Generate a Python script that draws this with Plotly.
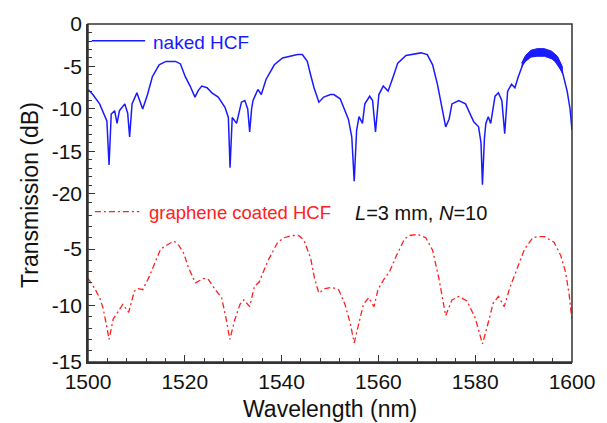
import plotly.graph_objects as go

# ---------------- data ----------------
naked_nm = [1500.0, 1501.0, 1502.4, 1503.4, 1503.9, 1504.35, 1504.8, 1505.5, 1506.0, 1506.5,
            1507.6, 1508.2, 1508.6, 1509.1, 1510.1, 1511.3, 1512.3, 1513.3, 1514.7, 1516.1,
            1518.1, 1519.1, 1520.1, 1521.1, 1522.1, 1522.8, 1523.5, 1524.6, 1525.6, 1526.9,
            1528.3, 1529.0, 1529.35, 1529.8, 1530.7, 1531.7, 1532.4, 1533.0, 1533.4, 1533.8,
            1534.1, 1535.1, 1535.8, 1536.8, 1538.5, 1540.2, 1543.3, 1544.3, 1545.3, 1546.0,
            1546.7, 1547.7, 1548.7, 1550.1, 1550.8, 1552.1, 1553.8, 1554.5, 1555.0, 1555.5,
            1556.0, 1556.7, 1557.2, 1558.2, 1558.8, 1559.4, 1560.1, 1561.0, 1562.0, 1563.0,
            1564.0, 1565.7, 1568.8, 1570.1, 1571.2, 1572.2, 1573.2, 1573.9, 1574.6, 1575.2,
            1576.6, 1578.0, 1579.7, 1580.7, 1581.2, 1581.5, 1581.9, 1582.2, 1582.7, 1583.2,
            1584.1, 1584.8, 1585.5, 1586.1, 1586.7, 1587.5, 1588.2, 1588.9, 1590.2, 1592.2,
            1594.3, 1596.3, 1598.0, 1599.0, 1599.6, 1600.0]
naked_db = [-7.7, -8.3, -9.4, -10.6, -11.4, -16.6, -10.6, -10.2, -11.7, -10.2,
            -9.4, -10.5, -13.3, -9.4, -8.1, -10.0, -8.3, -6.2, -4.8, -4.4,
            -4.4, -4.7, -6.2, -7.3, -8.6, -7.8, -7.3, -7.5, -8.1, -8.6,
            -9.8, -11.0, -16.9, -11.0, -11.7, -9.2, -9.0, -10.0, -12.7, -10.0,
            -9.0, -7.7, -8.3, -6.5, -4.8, -4.0, -3.6, -3.6, -4.4, -6.0,
            -7.5, -9.2, -8.6, -8.3, -8.3, -8.8, -11.2, -13.3, -18.5, -12.5,
            -10.9, -11.7, -9.4, -8.5, -9.0, -12.7, -8.3, -7.3, -7.9, -6.3,
            -4.6, -3.7, -3.4, -3.6, -4.8, -7.1, -10.2, -12.1, -11.2, -9.4,
            -9.0, -9.4, -11.5, -12.1, -14.0, -18.9, -13.5, -11.7, -10.9, -11.7,
            -8.5, -8.1, -9.0, -12.9, -7.9, -7.1, -7.5, -6.2, -4.2, -3.4,
            -3.5, -4.2, -5.6, -7.9, -10.0, -12.5]

# noisy band on the last naked-HCF passband
band_nm = [1589.6, 1590.4, 1591.5, 1592.8, 1594.3, 1595.8, 1597.0, 1598.0]
band_hi = [-4.6, -3.7, -3.1, -2.9, -2.9, -3.2, -3.8, -5.0]
band_lo = [-5.0, -4.4, -3.9, -3.8, -3.8, -4.1, -4.6, -5.8]

coated_nm = [1500.0, 1501.4, 1502.4, 1503.1, 1503.9, 1504.35, 1505.2, 1506.2, 1507.2, 1508.4,
             1509.6, 1510.4, 1511.3, 1512.7, 1513.7, 1515.0, 1516.5, 1517.8, 1518.8, 1519.8,
             1520.8, 1522.2, 1523.9, 1524.9, 1526.3, 1527.6, 1528.6, 1529.3, 1530.3, 1531.4,
             1532.2, 1533.4, 1534.4, 1535.4, 1537.1, 1539.2, 1540.5, 1542.2, 1543.5, 1544.6,
             1546.0, 1546.8, 1547.7, 1549.0, 1550.4, 1551.8, 1553.1, 1554.2, 1555.0, 1555.9,
             1556.9, 1558.0, 1559.1, 1559.9, 1561.1, 1562.3, 1563.7, 1565.4, 1566.5, 1568.1,
             1569.8, 1571.2, 1572.5, 1573.9, 1575.2, 1576.6, 1578.3, 1580.0, 1581.5, 1582.7,
             1583.7, 1584.8, 1586.0, 1587.1, 1588.5, 1590.2, 1591.9, 1593.0, 1594.3, 1596.3,
             1597.7, 1598.7, 1599.4, 1600.0]
coated_db = [-7.6, -8.5, -9.3, -10.2, -11.9, -13.0, -11.2, -10.6, -9.9, -10.6,
             -8.7, -8.5, -8.6, -7.4, -6.3, -5.0, -4.6, -4.3, -4.7, -5.4,
             -6.7, -8.0, -7.6, -7.7, -8.6, -9.3, -11.3, -13.0, -11.3, -9.9,
             -9.5, -10.1, -8.3, -7.9, -6.1, -4.4, -4.0, -3.8, -3.8, -4.2,
             -5.8, -7.6, -8.9, -8.5, -8.4, -8.6, -9.9, -11.6, -13.3, -11.6,
             -9.9, -9.3, -10.1, -8.6, -7.7, -7.0, -5.6, -4.1, -3.8, -3.7,
             -4.0, -5.1, -7.6, -10.9, -9.5, -9.2, -9.6, -11.1, -13.4, -11.5,
             -9.8, -9.2, -10.1, -8.5, -6.9, -5.0, -4.0, -3.9, -3.9, -4.4,
             -5.6, -7.1, -9.0, -11.3]

assert len(naked_nm) == len(naked_db), (len(naked_nm), len(naked_db))
assert len(coated_nm) == len(coated_db), (len(coated_nm), len(coated_db))

x_ticks = [1500, 1520, 1540, 1560, 1580, 1600]
top_ticks = [0, -5, -10, -15, -20]
bot_ticks = [-5, -10, -15]

BLUE = "#1a1aff"
RED = "#ff2020"
FONT = "Liberation Sans, Arial, sans-serif"
AX = "#333333"

fig = go.Figure()
fig.add_trace(go.Scatter(x=band_nm + band_nm[::-1], y=band_hi + band_lo[::-1],
                         fill="toself", fillcolor=BLUE, line=dict(color=BLUE, width=1),
                         mode="lines", xaxis="x", yaxis="y", showlegend=False, hoverinfo="skip"))
fig.add_trace(go.Scatter(x=naked_nm, y=naked_db, mode="lines", name="naked HCF",
                         line=dict(color=BLUE, width=1.5), xaxis="x", yaxis="y", showlegend=False))
fig.add_trace(go.Scatter(x=coated_nm, y=coated_db, mode="lines", name="graphene coated HCF",
                         line=dict(color=RED, width=1.3, dash="6px,3px,2px,3px"),
                         xaxis="x", yaxis="y2", showlegend=False))

split = 0.4622

def ylabels(vals):
    return [str(v).replace("\u2212", "-") for v in vals]

common_axis = dict(showline=True, linecolor=AX, linewidth=1.5, ticks="inside", ticklen=7,
                   tickcolor=AX, tickwidth=1.3, showgrid=False, zeroline=False,
                   tickfont=dict(family=FONT, size=21, color="#111"))

fig.update_layout(
    width=607, height=423,
    margin=dict(l=88, r=29, t=18, b=61),
    paper_bgcolor="white", plot_bgcolor="white",
    xaxis=dict(range=[1500, 1600], anchor="y2", tickmode="array", tickvals=x_ticks,
               ticktext=[str(v) for v in x_ticks],
               minor=dict(tickmode="array", tickvals=list(range(1500, 1601, 4)),
                          ticks="inside", ticklen=4, tickcolor=AX, tickwidth=1.2),
               **common_axis),
    yaxis=dict(domain=[split, 1], range=[-21.39, 0], anchor="x", tickmode="array",
               tickvals=top_ticks, ticktext=ylabels(top_ticks),
               minor=dict(tickmode="array", tickvals=list(range(-21, 1)),
                          ticks="inside", ticklen=4, tickcolor=AX, tickwidth=1.2),
               **common_axis),
    yaxis2=dict(domain=[0, split], range=[-15, -1.17], anchor="x", tickmode="array",
                tickvals=bot_ticks, ticktext=ylabels(bot_ticks),
                minor=dict(tickmode="array", tickvals=list(range(-15, -1)),
                           ticks="inside", ticklen=4, tickcolor=AX, tickwidth=1.2),
                **common_axis),
    shapes=[
        dict(type="rect", xref="paper", yref="paper", x0=0, x1=1, y0=0, y1=1,
             line=dict(color=AX, width=1.5), fillcolor="rgba(0,0,0,0)"),
        # legend samples
        dict(type="line", xref="paper", yref="paper", x0=0.008, x1=0.118, y0=0.9506, y1=0.9506,
             line=dict(color=BLUE, width=1.4)),
        dict(type="line", xref="paper", yref="paper", x0=0.0143, x1=0.106, y0=0.4448, y1=0.4448,
             line=dict(color=RED, width=1.3, dash="6px,3px,2px,3px")),
    ],
    annotations=[
        dict(text="naked HCF", xref="paper", yref="paper", x=0.131, y=0.9448,
             xanchor="left", yanchor="middle", showarrow=False,
             font=dict(family=FONT, size=19, color=BLUE)),
        dict(text="graphene coated HCF", xref="paper", yref="paper", x=0.121, y=0.4419,
             xanchor="left", yanchor="middle", showarrow=False,
             font=dict(family=FONT, size=18.5, color=RED)),
        dict(text="<i>L</i>=3 mm, <i>N</i>=10", xref="paper", yref="paper", x=0.547, y=0.4419,
             xanchor="left", yanchor="middle", showarrow=False,
             font=dict(family=FONT, size=20, color="#111")),
        dict(text="Transmission (dB)", xref="paper", yref="paper", x=-0.12, y=0.494,
             xanchor="center", yanchor="middle", textangle=-90, showarrow=False,
             font=dict(family=FONT, size=23, color="#111")),
        dict(text="Wavelength (nm)", xref="paper", yref="paper", x=0.5, y=-0.1395,
             xanchor="center", yanchor="middle", showarrow=False,
             font=dict(family=FONT, size=23, color="#111")),
    ],
)

fig.write_html("out.html")
